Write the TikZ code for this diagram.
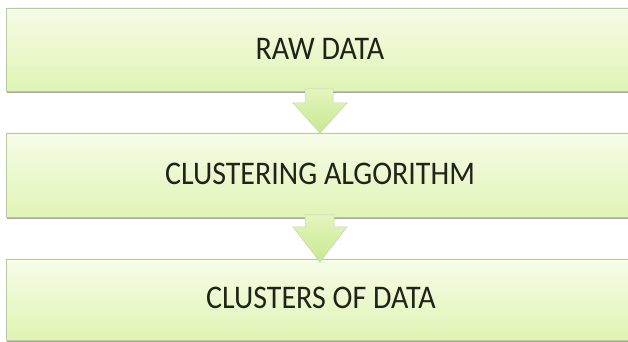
\documentclass[tikz,border=0pt]{standalone}
\usepackage{fontspec}
\setmainfont{Carlito}
\definecolor{boxtop}{HTML}{F6FCE8}
\definecolor{boxbot}{HTML}{E0F4B4}
\definecolor{boxline}{HTML}{B9C8A2}
\definecolor{arrtop}{HTML}{E4F5BE}
\definecolor{arrbot}{HTML}{C8E890}
\definecolor{txt}{HTML}{1E2418}
\tikzset{
  stagebox/.style={top color=boxtop, bottom color=boxbot, draw=boxline, line width=0.8pt},
  stageshadow/.style={fill=black!35},
  downarrow/.style={top color=arrtop, bottom color=arrbot, draw=boxline!80, line width=0.5pt},
  lbl/.style={font=\fontsize{30}{34}\selectfont, text=txt, inner sep=0pt, yscale=1.1}
}
\begin{document}
\begin{tikzpicture}[x=1pt,y=1pt]
\useasboundingbox (0,0) rectangle (628,342);
\clip (0,0) rectangle (628,342);
% shadows
\fill[stageshadow] (7,249) rectangle (640,253);
\fill[stageshadow] (7,123) rectangle (640,127);
\fill[stageshadow] (7,0) rectangle (640,4);
% boxes
\draw[stagebox] (6,251) rectangle (640,334);
\draw[stagebox] (6,125) rectangle (640,209);
\draw[stagebox] (6,2) rectangle (640,83);
% arrows
\draw[downarrow] (305,253) -- (333,253) -- (333,239) -- (347,239) -- (320,209) -- (293,239) -- (305,239) -- cycle;
\draw[downarrow] (305,127) -- (334,127) -- (334,115) -- (347,115) -- (320,80) -- (293,115) -- (305,115) -- cycle;
% labels
\node[lbl] (raw) at (320,293) {RAW DATA};
\node[lbl] (alg) at (320,168) {CLUSTERING ALGORITHM};
\node[lbl] (clu) at (321,44) {CLUSTERS OF DATA};
\end{tikzpicture}
\end{document}
